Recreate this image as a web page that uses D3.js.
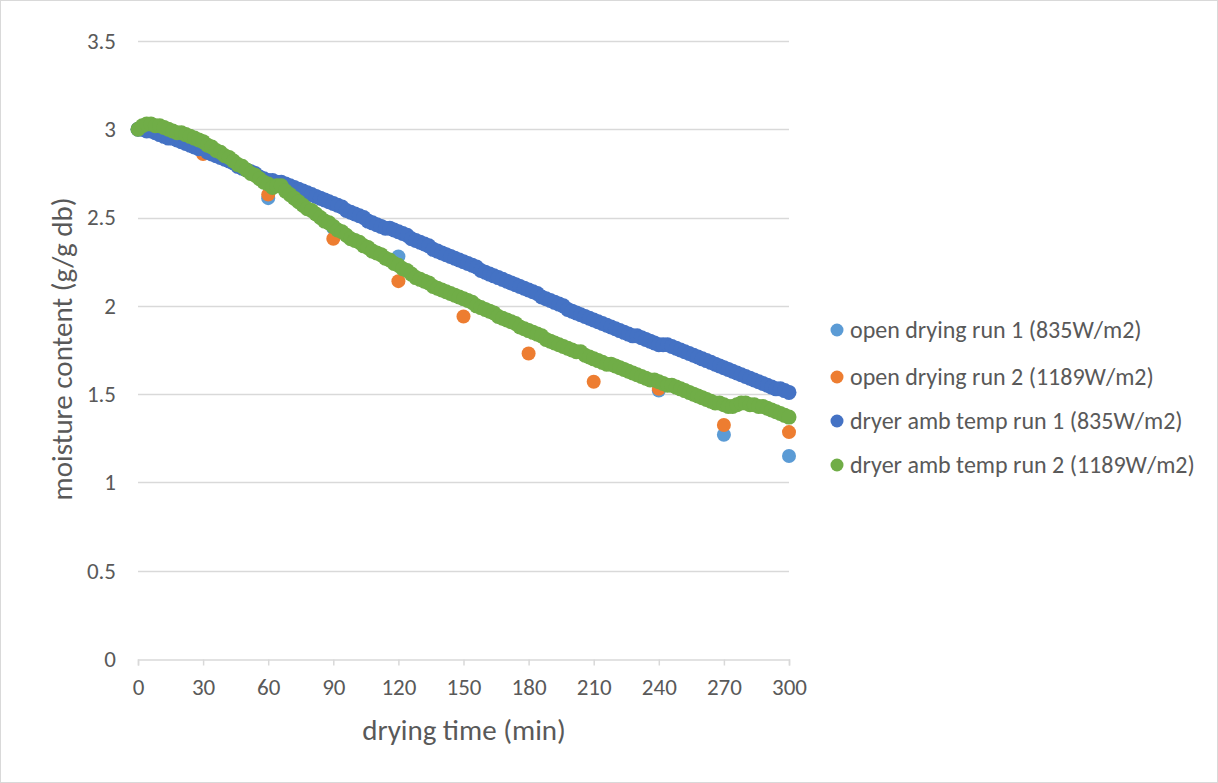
<!DOCTYPE html>
<html><head><meta charset="utf-8">
<script src="https://cdn.jsdelivr.net/npm/d3@7"></script>
<style>
html,body{margin:0;padding:0;background:#fff;}
svg text{font-family:Carlito,Lato,"Open Sans",sans-serif;fill:#595959;}
</style></head>
<body>
<svg id="chart" width="1218" height="783"></svg>
<script>
// ---- data ----
const seriesNames = [
  "open drying run 1 (835W/m2)",
  "open drying run 2 (1189W/m2)",
  "dryer amb temp run 1 (835W/m2)",
  "dryer amb temp run 2 (1189W/m2)"
];
const seriesColors = ["#5B9BD5", "#ED7D31", "#4472C4", "#70AD47"];

const openTimes = [0, 30, 60, 90, 120, 150, 180, 210, 240, 270, 300];
const openRun1 = [3.00, 2.87, 2.61, 2.44, 2.28, 2.04, 1.86, 1.70, 1.52, 1.27, 1.15];
const openRun2 = [3.00, 2.86, 2.63, 2.38, 2.14, 1.94, 1.73, 1.57, 1.53, 1.325, 1.285];

const dryerTimes = [0,2,4,6,8,10,12,14,16,18,20,22,24,26,28,30,32,34,36,38,40,42,44,46,48,50,52,54,56,58,
  60,62,64,66,68,70,72,74,76,78,80,82,84,86,88,90,92,94,96,98,100,102,104,106,108,110,112,114,116,118,
  120,122,124,126,128,130,132,134,136,138,140,142,144,146,148,150,152,154,156,158,160,162,164,166,168,170,172,174,176,178,
  180,182,184,186,188,190,192,194,196,198,200,202,204,206,208,210,212,214,216,218,220,222,224,226,228,230,232,234,236,238,
  240,242,244,246,248,250,252,254,256,258,260,262,264,266,268,270,272,274,276,278,280,282,284,286,288,290,292,294,296,298,300];
const dryerRun1 = [3.00,3.00,2.99,2.99,2.98,2.97,2.96,2.95,2.95,2.94,2.93,2.92,2.91,2.90,2.89,2.89,2.87,2.86,2.85,2.84,2.83,2.82,2.81,2.79,2.78,2.77,2.76,2.75,2.73,2.72,
  2.71,2.71,2.70,2.70,2.69,2.68,2.67,2.66,2.65,2.64,2.63,2.62,2.61,2.60,2.59,2.58,2.57,2.56,2.54,2.53,2.52,2.51,2.50,2.48,2.47,2.46,2.45,2.44,2.44,2.43,
  2.42,2.41,2.40,2.38,2.37,2.36,2.35,2.34,2.32,2.31,2.30,2.29,2.28,2.27,2.26,2.25,2.24,2.23,2.22,2.20,2.19,2.18,2.17,2.16,2.15,2.14,2.13,2.12,2.11,2.10,
  2.09,2.08,2.07,2.05,2.04,2.03,2.02,2.01,2.00,1.98,1.97,1.96,1.95,1.94,1.93,1.92,1.91,1.90,1.89,1.88,1.87,1.86,1.85,1.84,1.83,1.83,1.82,1.81,1.80,1.79,
  1.78,1.78,1.78,1.77,1.76,1.75,1.74,1.73,1.72,1.71,1.70,1.69,1.68,1.67,1.66,1.65,1.64,1.63,1.62,1.61,1.60,1.59,1.58,1.57,1.56,1.55,1.54,1.53,1.53,1.52,1.51];
const dryerRun2 = [3.00,3.02,3.03,3.03,3.02,3.02,3.01,3.00,2.99,2.98,2.98,2.97,2.96,2.95,2.94,2.93,2.91,2.90,2.88,2.87,2.85,2.84,2.82,2.80,2.79,2.77,2.75,2.74,2.72,2.70,
  2.69,2.67,2.68,2.68,2.65,2.63,2.61,2.59,2.57,2.55,2.54,2.52,2.50,2.48,2.47,2.45,2.43,2.42,2.40,2.38,2.37,2.36,2.34,2.33,2.31,2.30,2.29,2.27,2.26,2.24,
  2.23,2.21,2.20,2.18,2.16,2.15,2.14,2.13,2.11,2.10,2.09,2.08,2.07,2.06,2.05,2.04,2.03,2.02,2.00,1.99,1.98,1.97,1.96,1.94,1.93,1.92,1.91,1.90,1.88,1.87,
  1.86,1.85,1.84,1.83,1.81,1.80,1.79,1.78,1.77,1.76,1.75,1.74,1.74,1.72,1.71,1.70,1.69,1.68,1.67,1.67,1.66,1.65,1.64,1.63,1.62,1.61,1.60,1.59,1.58,1.58,
  1.57,1.56,1.55,1.55,1.54,1.53,1.52,1.51,1.50,1.49,1.48,1.47,1.46,1.45,1.45,1.44,1.43,1.43,1.44,1.45,1.45,1.44,1.44,1.43,1.43,1.42,1.41,1.40,1.39,1.38,1.37];

const xTicks = [0,30,60,90,120,150,180,210,240,270,300];
const yTicks = [0,0.5,1,1.5,2,2.5,3,3.5];
const xTitle = "drying time (min)";
const yTitle = "moisture content (g/g db)";

(function(){
const svg = d3.select("#chart");
const W = 1218, H = 783;
const pL = 138, pR = 789, pT = 41, pB = 659;

svg.append("rect").attr("x",0.5).attr("y",0.5).attr("width",W-1).attr("height",H-1)
  .attr("fill","#fff").attr("stroke","#d9d9d9");

const x = d3.scaleLinear().domain([0,300]).range([pL,pR]);
const y = d3.scaleLinear().domain([0,3.5]).range([pB,pT]);

// gridlines
svg.append("g").selectAll("line").data(yTicks.filter(d=>d>0)).join("line")
  .attr("x1",pL).attr("x2",pR)
  .attr("y1",d=>Math.round(y(d))+0.5).attr("y2",d=>Math.round(y(d))+0.5)
  .attr("stroke","#d9d9d9").attr("stroke-width",1.5);

// x axis
const xAxis = d3.axisBottom(x).tickValues(xTicks).tickSize(6).tickPadding(13).tickFormat(d3.format("d"));
const gx = svg.append("g").attr("transform",`translate(0,${Math.round(pB)+0.5})`).call(xAxis);
gx.select(".domain").attr("stroke","#d9d9d9").attr("stroke-width",1.5);
gx.selectAll(".tick line").attr("stroke","#d9d9d9").attr("stroke-width",1.5);
gx.selectAll(".tick text").attr("font-size","23px").style("fill","#595959")
  .style("font-family","Carlito,Lato,sans-serif");

// y axis
const yAxis = d3.axisLeft(y).tickValues(yTicks).tickSize(0).tickPadding(22).tickFormat(d=>String(d));
const gy = svg.append("g").attr("transform",`translate(${pL},0)`).call(yAxis);
gy.select(".domain").remove();
gy.selectAll(".tick text").attr("font-size","23px").style("fill","#595959")
  .style("font-family","Carlito,Lato,sans-serif");

// axis titles
svg.append("text").attr("x",464).attr("y",740).attr("text-anchor","middle")
  .attr("font-size","29px").text(xTitle);
svg.append("text").attr("transform",`translate(72,349) rotate(-90)`)
  .attr("text-anchor","middle").attr("font-size","29px").text(yTitle);

// series
const series = [
  {t: openTimes, v: openRun1, r: 7},
  {t: openTimes, v: openRun2, r: 7},
  {t: dryerTimes, v: dryerRun1, r: 7.5},
  {t: dryerTimes, v: dryerRun2, r: 7.5}
];
series.forEach((s,i)=>{
  svg.append("g").selectAll("circle").data(s.t.map((t,j)=>[t,s.v[j]])).join("circle")
    .attr("cx",d=>x(d[0])).attr("cy",d=>y(d[1])).attr("r",s.r)
    .attr("fill",seriesColors[i]);
});

// legend
const legY = [330, 377, 421, 465];
const leg = svg.append("g");
seriesNames.forEach((n,i)=>{
  leg.append("circle").attr("cx",837).attr("cy",legY[i]).attr("r",6.5).attr("fill",seriesColors[i]);
  leg.append("text").attr("x",850).attr("y",legY[i]).attr("dy","0.35em")
    .attr("font-size","24px").text(n);
});
})();
</script>
</body></html>
